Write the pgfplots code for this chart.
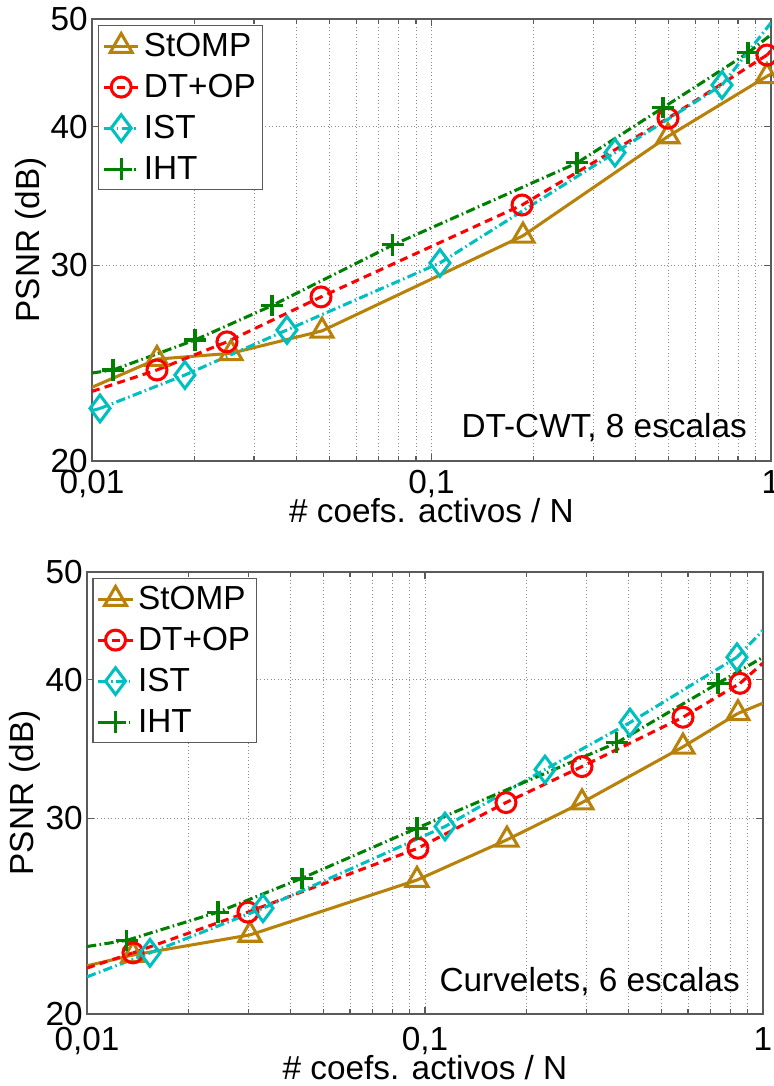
\documentclass[border=0pt]{standalone}
\usepackage{fontspec}
\setmainfont{Liberation Sans}
\usepackage{pgfplots}
\pgfplotsset{compat=1.18}

\definecolor{cStOMP}{RGB}{184,130,10}
\definecolor{cDT}{RGB}{255,0,0}
\definecolor{cIST}{RGB}{0,191,191}
\definecolor{cIHT}{RGB}{0,128,0}
\definecolor{axgray}{RGB}{90,90,90}

\newcommand{\bigfont}{\fontsize{25}{29}\selectfont}

\tikzset{
  sStOMP/.style={color=cStOMP, solid, line width=2.3pt, mark=triangle, mark size=9.5pt, mark options={solid}},
  sDT/.style={color=cDT, line width=2.3pt, dash pattern=on 6pt off 4pt, mark=o, mark size=7.5pt, mark options={solid}},
  sIST/.style={color=cIST, line width=2.3pt, dash pattern=on 7pt off 2.5pt on 1.2pt off 2.5pt, mark=diamond, mark size=10pt, mark options={solid}},
  sIHT/.style={color=cIHT, line width=2.3pt, dash pattern=on 7pt off 2.5pt on 1.2pt off 2.5pt, mark=+, mark size=8pt, mark options={solid}},
}

\begin{document}
\begin{tikzpicture}

% DT-CWT, 8 scales
\begin{axis}[
    at={(69pt,468.75pt)}, anchor=south west,
    scale only axis, width=509.25pt, height=331.5pt,
    xmode=log, ymode=log,
    xmin=0.01, xmax=1, ymin=20, ymax=50,
    xtick={0.01,0.1,1}, xticklabels={0{,}01,0{,}1,1},
    minor xtick={0.02,0.03,0.04,0.05,0.06,0.07,0.08,0.09,0.2,0.3,0.4,0.5,0.6,0.7,0.8,0.9},
    ytick={20,30,40,50}, yticklabels={20,30,40,50},
    yminorticks=false,
    xmajorgrids=true, xminorgrids=true, ymajorgrids=true,
    major grid style={draw=black!45, line width=0.6pt, dash pattern=on 0.6pt off 2pt},
    minor grid style={draw=black!45, line width=0.6pt, dash pattern=on 0.6pt off 2pt},
    axis line style={draw=axgray, line width=0.9pt},
    tick style={draw=axgray, line width=0.9pt},
    tick align=inside, tick pos=both,
    major tick length=5pt, minor tick length=3.5pt,
    tick label style={font=\bigfont},
    xticklabel style={anchor=north, inner sep=0pt, yshift=-7pt},
    yticklabel style={anchor=east, inner sep=0pt, xshift=-3pt},
    label style={font=\bigfont},
    xlabel={\# coefs. activos / N},
    ylabel={PSNR (dB)},
    xlabel style={at={(axis description cs:0.5,0)}, anchor=base, yshift=-46.5pt},
    ylabel style={at={(axis description cs:0,0.5)}, anchor=base, yshift=39pt},
    legend cell align=left,
    legend style={at={(axis description cs:0,1)}, anchor=north west,
      xshift=4.5pt, yshift=-4.5pt, draw=axgray, line width=0.9pt, fill=white,
      font=\bigfont, inner xsep=3pt, inner ysep=2.4pt, row sep=4.75pt, column sep=1pt,
      nodes={inner sep=2pt, text height=18.5pt, text depth=3.5pt}},
    legend image code/.code={
      \draw[mark repeat=2, mark phase=2] plot coordinates {(0cm,0cm) (0.45cm,0cm) (0.9cm,0cm)};
    },
  ]
\addplot[sStOMP] coordinates {
  (0.01554,24.7) (0.02567,25.0) (0.0476,26.19) (0.186,31.9) (0.4973,39.2) (0.973,44.4)};
\addlegendentry{StOMP}
\addplot[sDT] coordinates {
  (0.01554,24.15) (0.02498,25.6) (0.04727,28.1) (0.1848,34.0) (0.4973,40.7) (0.973,46.4)};
\addlegendentry{DT+OP}
\addplot[sIST] coordinates {
  (0.01056,22.3) (0.01878,23.9) (0.03753,26.24) (0.1059,30.15) (0.3471,37.9) (0.7173,43.6)};
\addlegendentry{IST}
\addplot[sIHT] coordinates {
  (0.01153,24.15) (0.02011,25.7) (0.0339,27.6) (0.077,31.3) (0.2683,37.1) (0.4808,41.6) (0.8556,46.6)};
\addlegendentry{IHT}
% curve segments running out to the axis limits
\addplot[sStOMP, mark=none, forget plot] coordinates {(0.01,23.3) (0.01554,24.7)};
\addplot[sStOMP, mark=none, forget plot] coordinates {(0.973,44.4) (1,44.6)};
\addplot[sDT, mark=none, forget plot] coordinates {(0.01,23.1) (0.01554,24.15)};
\addplot[sDT, mark=none, forget plot] coordinates {(0.973,46.4) (1,46.8)};
\addplot[sIST, mark=none, forget plot] coordinates {(0.01,22.2) (0.01056,22.3)};
\addplot[sIST, mark=none, forget plot] coordinates {(0.7173,43.6) (1,49.6)};
\addplot[sIHT, mark=none, forget plot] coordinates {(0.01,24.0) (0.01153,24.15)};
\addplot[sIHT, mark=none, forget plot] coordinates {(0.8556,46.6) (1,48.4)};
\node[anchor=base east, font=\bigfont, inner sep=0pt] at (rel axis cs:0.9647,0.052) {DT-CWT, 8 escalas};
\end{axis}

% Curvelets, 6 scales
\begin{axis}[
    at={(65.25pt,54pt)}, anchor=south west,
    scale only axis, width=507pt, height=331.5pt,
    xmode=log, ymode=log,
    xmin=0.01, xmax=1, ymin=20, ymax=50,
    xtick={0.01,0.1,1}, xticklabels={0{,}01,0{,}1,1},
    minor xtick={0.02,0.03,0.04,0.05,0.06,0.07,0.08,0.09,0.2,0.3,0.4,0.5,0.6,0.7,0.8,0.9},
    ytick={20,30,40,50}, yticklabels={20,30,40,50},
    yminorticks=false,
    xmajorgrids=true, xminorgrids=true, ymajorgrids=true,
    major grid style={draw=black!45, line width=0.6pt, dash pattern=on 0.6pt off 2pt},
    minor grid style={draw=black!45, line width=0.6pt, dash pattern=on 0.6pt off 2pt},
    axis line style={draw=axgray, line width=0.9pt},
    tick style={draw=axgray, line width=0.9pt},
    tick align=inside, tick pos=both,
    major tick length=5pt, minor tick length=3.5pt,
    tick label style={font=\bigfont},
    xticklabel style={anchor=north, inner sep=0pt, yshift=-10pt},
    yticklabel style={anchor=east, inner sep=0pt, xshift=-3pt},
    label style={font=\bigfont},
    xlabel={\# coefs. activos / N},
    ylabel={PSNR (dB)},
    xlabel style={at={(axis description cs:0.5,0)}, anchor=base, yshift=-49pt},
    ylabel style={at={(axis description cs:0,0.5)}, anchor=base, yshift=40pt},
    legend cell align=left,
    legend style={at={(axis description cs:0,1)}, anchor=north west,
      xshift=4pt, yshift=-4.5pt, draw=axgray, line width=0.9pt, fill=white,
      font=\bigfont, inner xsep=3pt, inner ysep=2.4pt, row sep=4.75pt, column sep=1pt,
      nodes={inner sep=2pt, text height=18.5pt, text depth=3.5pt}},
    legend image code/.code={
      \draw[mark repeat=2, mark phase=2] plot coordinates {(0cm,0cm) (0.45cm,0cm) (0.9cm,0cm)};
    },
  ]
\addplot[sStOMP] coordinates {
  (0.01368,22.6) (0.03035,23.56) (0.0947,26.4) (0.1748,28.7) (0.2914,31.0) (0.5799,34.8) (0.8433,37.3)};
\addlegendentry{StOMP}
\addplot[sDT] coordinates {
  (0.01368,22.7) (0.02994,24.7) (0.0953,28.2) (0.1736,31.0) (0.2914,33.4) (0.5799,37.0) (0.855,39.7)};
\addlegendentry{DT+OP}
\addplot[sIST] coordinates {
  (0.01536,22.7) (0.03317,24.9) (0.1146,29.5) (0.2265,33.2) (0.4042,36.6) (0.8375,41.9)};
\addlegendentry{IST}
\addplot[sIHT] coordinates {
  (0.01313,23.3) (0.02441,24.7) (0.04326,26.5) (0.0947,29.4) (0.3698,35.1) (0.7361,39.7)};
\addlegendentry{IHT}
% curve segments running out to the axis limits
\addplot[sStOMP, mark=none, forget plot] coordinates {(0.01,22.1) (0.01368,22.6)};
\addplot[sStOMP, mark=none, forget plot] coordinates {(0.8433,37.3) (1,38.1)};
\addplot[sDT, mark=none, forget plot] coordinates {(0.01,22.0) (0.01368,22.7)};
\addplot[sDT, mark=none, forget plot] coordinates {(0.855,39.7) (1,41.4)};
\addplot[sIST, mark=none, forget plot] coordinates {(0.01,21.6) (0.01536,22.7)};
\addplot[sIST, mark=none, forget plot] coordinates {(0.8375,41.9) (1,44.3)};
\addplot[sIHT, mark=none, forget plot] coordinates {(0.01,23.0) (0.01313,23.3)};
\addplot[sIHT, mark=none, forget plot] coordinates {(0.7361,39.7) (1,41.9)};
\node[anchor=base east, font=\bigfont, inner sep=0pt] at (rel axis cs:0.966,0.05) {Curvelets, 6 escalas};
\end{axis}

\pgfresetboundingbox
\path[use as bounding box] (0,0) rectangle (580.5pt,814.5pt);
\end{tikzpicture}
\end{document}
